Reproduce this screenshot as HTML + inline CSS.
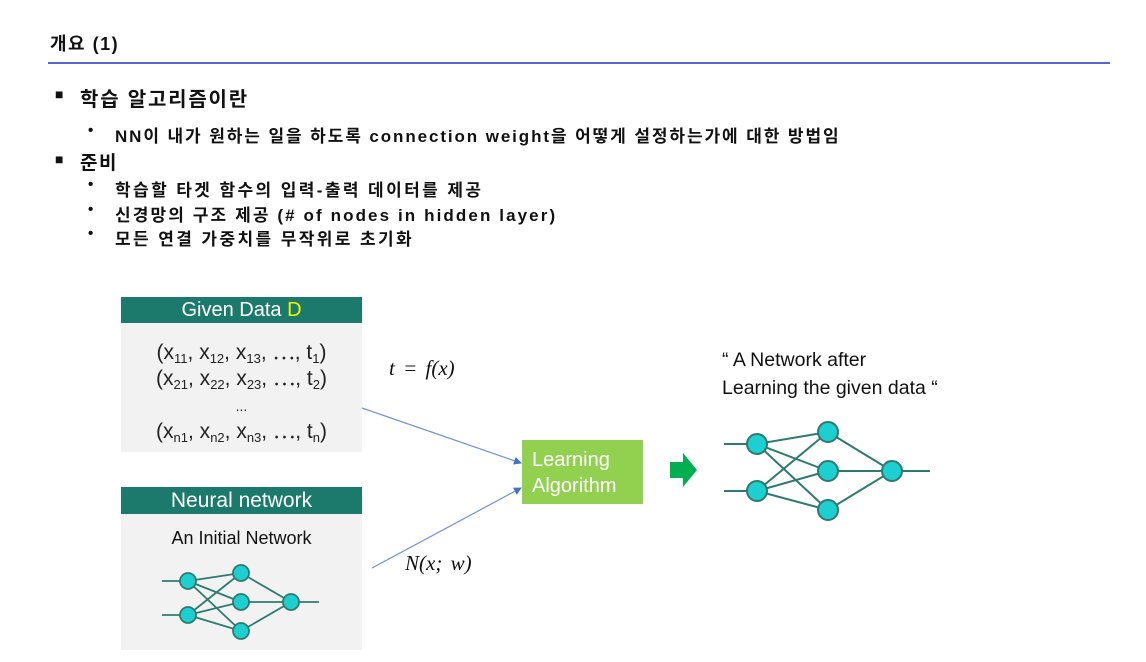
<!DOCTYPE html>
<html><head><meta charset="utf-8"><style>
body{margin:0;width:1146px;height:662px;background:#fff;position:relative;overflow:hidden;font-family:"Liberation Sans","Noto Sans CJK KR",sans-serif;color:#111}
.t{position:absolute;white-space:nowrap}
.k{font-weight:bold}
.hdr{position:absolute;background:#1c7a6c;color:#fff;font-size:20px;text-align:center}
.bd{position:absolute;background:#f2f2f2}
.math{font-family:"Liberation Serif",serif;font-style:italic;font-size:21px;word-spacing:3px}
.tup{font-size:21px;color:#222;text-align:center;line-height:26px}
sub{font-size:13px;vertical-align:-4px;line-height:0}
.s{font-size:17px;letter-spacing:1.9px}
</style></head><body>
<div class="t k" style="left:50px;top:30px;font-size:18px;letter-spacing:1.5px">개요 (1)</div>
<div style="position:absolute;left:48px;top:62px;width:1062px;height:2px;background:#5a63d6"></div>
<div class="t k" style="left:55px;top:86px;font-size:14px">■</div>
<div class="t k" style="left:80px;top:83px;font-size:20px;letter-spacing:1.8px">학습 알고리즘이란</div>
<div class="t k" style="left:88px;top:122px;font-size:15px">•</div>
<div class="t k s" style="left:115px;top:122px">NN이 내가 원하는 일을 하도록 connection weight을 어떻게 설정하는가에 대한 방법임</div>
<div class="t k" style="left:55px;top:151px;font-size:14px">■</div>
<div class="t k" style="left:80px;top:148px;font-size:19px;letter-spacing:1.5px">준비</div>
<div class="t k" style="left:88px;top:176px;font-size:15px">•</div>
<div class="t k s" style="left:115px;top:176px;letter-spacing:2.4px">학습할 타겟 함수의 입력-출력 데이터를 제공</div>
<div class="t k" style="left:88px;top:201px;font-size:15px">•</div>
<div class="t k s" style="left:115px;top:201px;letter-spacing:2.1px">신경망의 구조 제공 (# of nodes in hidden layer)</div>
<div class="t k" style="left:88px;top:225px;font-size:15px">•</div>
<div class="t k s" style="left:115px;top:225px;letter-spacing:2.4px">모든 연결 가중치를 무작위로 초기화</div>

<div class="hdr" style="left:121px;top:297px;width:241px;height:26px;line-height:26px">Given Data <span style="color:#f2f200">D</span></div>
<div class="bd" style="left:121px;top:323px;width:241px;height:129px"></div>
<div class="t tup" style="left:121px;top:340px;width:241px">(x<sub>11</sub>, x<sub>12</sub>, x<sub>13</sub>, ⋯, t<sub>1</sub>)<br>(x<sub>21</sub>, x<sub>22</sub>, x<sub>23</sub>, ⋯, t<sub>2</sub>)<br><span style="font-size:14px">...</span><br>(x<sub>n1</sub>, x<sub>n2</sub>, x<sub>n3</sub>, ⋯, t<sub>n</sub>)</div>

<div class="hdr" style="left:121px;top:487px;width:241px;height:27px;line-height:27px;font-size:21px">Neural network</div>
<div class="bd" style="left:121px;top:514px;width:241px;height:136px"></div>
<div class="t" style="left:121px;top:528px;width:241px;text-align:center;font-size:18px">An Initial Network</div>

<div class="t math" style="left:389px;top:356px">t = f(x)</div>
<div class="t math" style="left:405px;top:551px">N(x; w)</div>

<div style="position:absolute;left:522px;top:440px;width:121px;height:64px;background:#92d050"></div>
<div class="t" style="left:532px;top:447px;color:#fff;font-size:20px;line-height:26px">Learning<br>Algorithm</div>

<div class="t" style="left:722px;top:346px;font-size:19.5px;line-height:28px">“ A Network after<br>Learning the given data “</div>

<svg width="1146" height="662" style="position:absolute;left:0;top:0">
<defs><marker id="a" markerWidth="8" markerHeight="8" refX="7" refY="4" orient="auto" markerUnits="userSpaceOnUse"><path d="M0,0 L8,4 L0,8 z" fill="#4472c4"/></marker></defs>
<line x1="362" y1="408" x2="521" y2="463" stroke="#6f93d2" stroke-width="1.2" marker-end="url(#a)"/>
<line x1="372" y1="568" x2="521" y2="488" stroke="#6f93d2" stroke-width="1.2" marker-end="url(#a)"/>
<path d="M670,462 H683 V453 L697,470 L683,487 V478 H670 z" fill="#00b050"/>
<g stroke="#2e7a6e" stroke-width="2">
<line x1="724" y1="444" x2="757" y2="444"/><line x1="724" y1="491" x2="757" y2="491"/>
<line x1="757" y1="444" x2="828" y2="432"/><line x1="757" y1="444" x2="828" y2="471"/><line x1="757" y1="444" x2="828" y2="510"/>
<line x1="757" y1="491" x2="828" y2="432"/><line x1="757" y1="491" x2="828" y2="471"/><line x1="757" y1="491" x2="828" y2="510"/>
<line x1="828" y1="432" x2="892" y2="471"/><line x1="828" y1="471" x2="892" y2="471"/><line x1="828" y1="510" x2="892" y2="471"/>
<line x1="892" y1="471" x2="930" y2="471"/>
</g>
<g fill="#1ecfd2" stroke="#2e7a6e" stroke-width="2">
<circle cx="757" cy="444" r="10"/><circle cx="757" cy="491" r="10"/>
<circle cx="828" cy="432" r="10"/><circle cx="828" cy="471" r="10"/><circle cx="828" cy="510" r="10"/>
<circle cx="892" cy="471" r="10"/>
</g>
<g stroke="#2e7a6e" stroke-width="1.8">
<line x1="162" y1="581" x2="188" y2="581"/><line x1="162" y1="615" x2="188" y2="615"/>
<line x1="188" y1="581" x2="241" y2="573"/><line x1="188" y1="581" x2="241" y2="602"/><line x1="188" y1="581" x2="241" y2="631"/>
<line x1="188" y1="615" x2="241" y2="573"/><line x1="188" y1="615" x2="241" y2="602"/><line x1="188" y1="615" x2="241" y2="631"/>
<line x1="241" y1="573" x2="291" y2="602"/><line x1="241" y1="602" x2="291" y2="602"/><line x1="241" y1="631" x2="291" y2="602"/>
<line x1="291" y1="602" x2="319" y2="602"/>
</g>
<g fill="#1ecfd2" stroke="#2e7a6e" stroke-width="1.8">
<circle cx="188" cy="581" r="8"/><circle cx="188" cy="615" r="8"/>
<circle cx="241" cy="573" r="8"/><circle cx="241" cy="602" r="8"/><circle cx="241" cy="631" r="8"/>
<circle cx="291" cy="602" r="8"/>
</g>
</svg>
</body></html>
